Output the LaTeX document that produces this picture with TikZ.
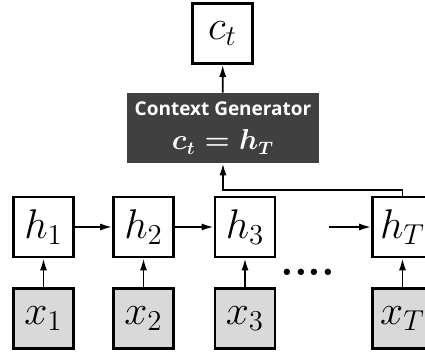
\documentclass[tikz,border=0pt]{standalone}
\usepackage{amsmath}
\usepackage{fontspec}
\newfontfamily\genfont{Open Sans}
\usepackage{tikz}
\usetikzlibrary{arrows.meta}

\begin{document}
\begin{tikzpicture}[x=0.5pt,y=-0.5pt,
  box/.style={draw,line width=1.3pt,minimum size=30pt,inner sep=0pt,font=\fontsize{22}{26}\selectfont},
  inbox/.style={box,fill=black!15},
  genbox/.style={fill=black!75,text=white,minimum width=96pt,minimum height=35pt,inner sep=0pt,align=center},
  arr/.style={line width=0.9pt,-{Latex[length=6pt,width=3.5pt]}}]
\useasboundingbox (0,0) rectangle (425,352);
\node[box] (ct) at (222.5,33.5) {$c_t$};
\node[genbox] (gen) at (223,128)
   {{\genfont\bfseries\fontsize{9.5}{11}\selectfont Context Generator}\\[5pt]
    {\fontsize{13.5}{16}\selectfont\boldmath$c_t = h_T$}};
\foreach \i/\x in %
{1/43.5,2/143.5,3/245,T/402.5} {
   \node[box] (h\i) at (\x,227) {$h_{\i}$};
   \node[inbox] (x\i) at (\x,318.5) {$x_{\i}$};
   \draw[arr] (x\i) -- (h\i);
}
\node[font=\fontsize{22}{26}\selectfont\bfseries] (dots) at (308,272) {....};
\coordinate (tin) at (329,227);
\coordinate (bend) at (402.5,190);
\draw[arr] (h1) -- (h2);
\draw[arr] (h2) -- (h3);
\draw[arr] (tin) -- (hT);
\draw[arr] (hT.north) -- (bend) -| (gen.south);
\draw[arr] (gen) -- (ct);
\end{tikzpicture}
\end{document}
